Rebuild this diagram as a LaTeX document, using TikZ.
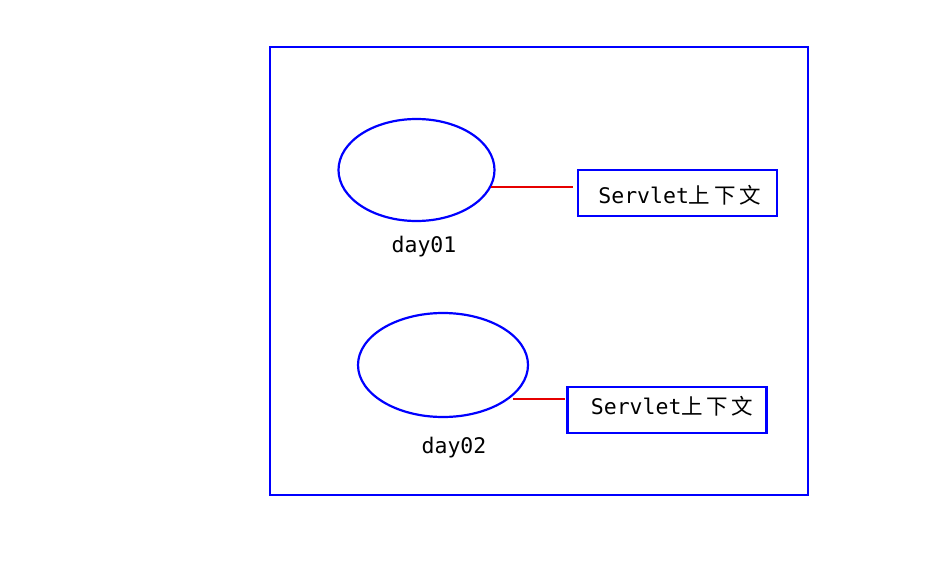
\documentclass[tikz,border=0pt]{standalone}
\usepackage{fontspec}
\setmonofont{DejaVu Sans Mono}
\newfontfamily\cjk{Noto Sans CJK SC}
\usetikzlibrary{shapes.geometric}
\definecolor{bblue}{RGB}{0,0,255}
\definecolor{rred}{RGB}{230,0,0}
\begin{document}
\begin{tikzpicture}[x=1pt,y=-1pt,
  frame/.style={draw=bblue,line width=2.2pt},
  oval/.style={draw=bblue,line width=2.2pt,ellipse,inner sep=0pt},
  ctxbox/.style={draw=bblue,line width=2.2pt,minimum width=199pt,minimum height=46pt,inner sep=0pt},
  ctxtext/.style={font=\fontsize{21.5}{24}\selectfont,inner sep=0pt},
  lbl/.style={font=\ttfamily\fontsize{21.5}{24}\selectfont},
  link/.style={draw=rred,line width=1.2pt}]
\useasboundingbox (0,0) rectangle (941,578);
\node[frame,minimum width=538pt,minimum height=448pt,inner sep=0pt] (outer) at (539,271) {};
\node[oval,minimum width=156pt,minimum height=102pt] (e1) at (416.5,170) {};
\node[oval,minimum width=170pt,minimum height=104pt] (e2) at (443,365) {};
\node[ctxbox] (b1) at (677.5,193) {};
\node[ctxbox] (b2) at (667,410) {};
\node[ctxtext] (t1) at (679.5,195) {\ttfamily Servlet{\cjk 上\,下\,文}};
\node[ctxtext] (t2) at (672,406) {\ttfamily Servlet{\cjk 上\,下\,文}};
\node[lbl] (l1) at (424,247) {day01};
\node[lbl] (l2) at (454,448) {day02};
\coordinate (c1) at (573,187);
\coordinate (c2) at (565,399);
\draw[link] (e1.east |- c1) ++(-5,0) -- (c1);
\draw[link] (513,399) -- (c2);
\end{tikzpicture}
\end{document}
